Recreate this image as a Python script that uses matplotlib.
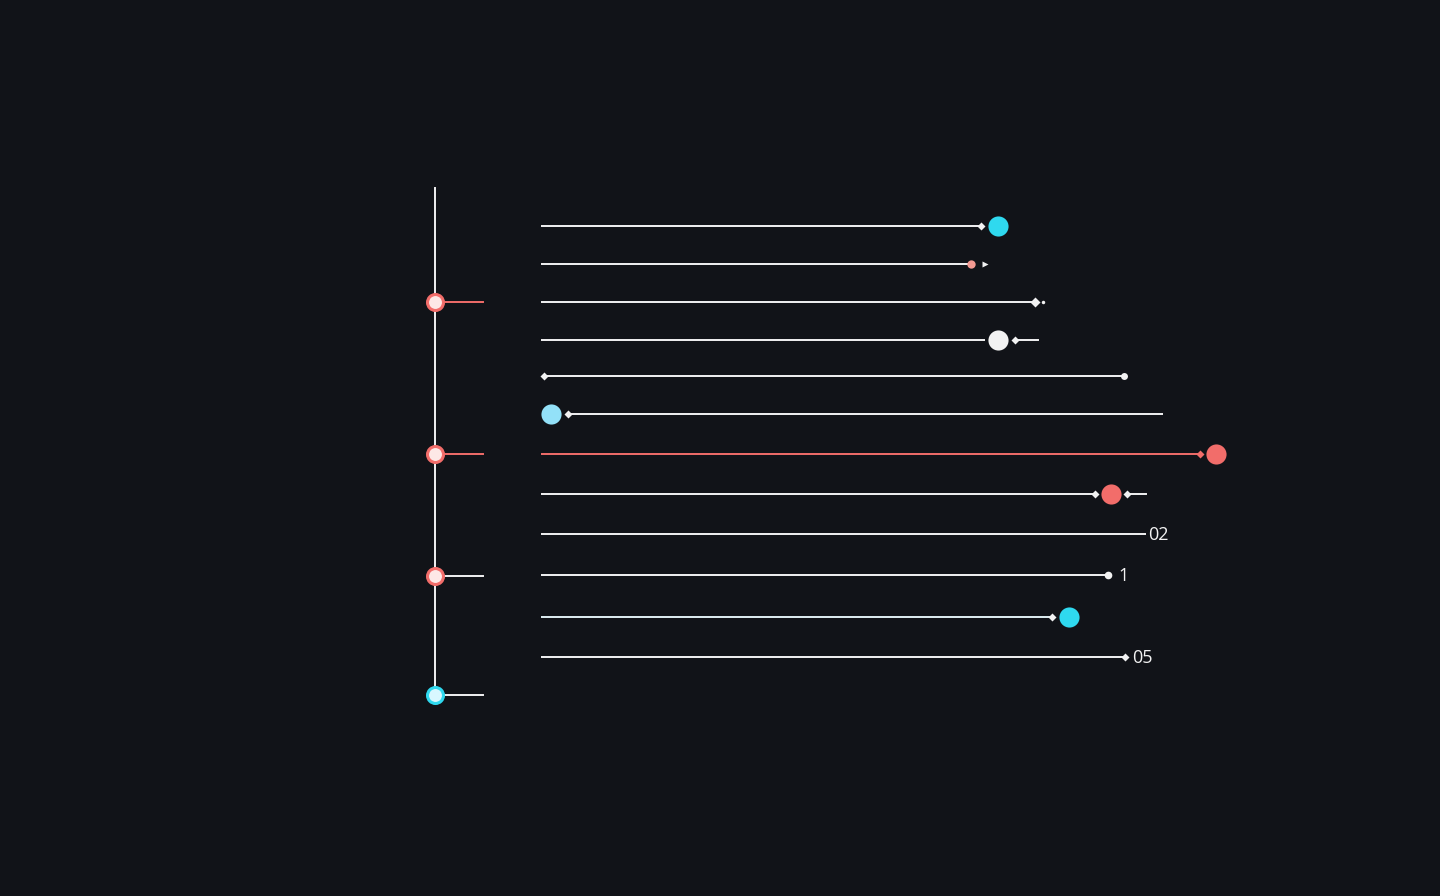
import numpy as np
import matplotlib
matplotlib.use("Agg")
import matplotlib.pyplot as plt

# colours
bg = "#111318"
white = "#f2f2f2"
cyan = "#2fd9ef"
red = "#f26d6a"
sky = "#93e1f8"

# rows of the right panel (screen rows, top to bottom)
rows = np.array([226, 264, 302, 340, 376, 414, 454, 494, 534, 575, 617, 657])
line_start = [541, 541, 541, 541, 544, 568, 541, 541, 541, 541, 541, 541]
line_end = [981, 971, 1035, 985, 1124, 1163, 1200, 1095, 1146, 1108, 1052, 1125]
line_col = [white, white, white, white, white, white, red, white, white, white, "#dfeef2", white]

# end markers: (row index, x, size, colour, marker)
end_idx = [0, 0, 1, 1, 2, 2, 3, 3, 4, 4, 5, 5, 6, 6, 7, 7, 7, 9, 10, 10, 11]
end_x = [981, 998, 971, 985, 1035, 1043, 998, 1015, 544, 1124, 551, 568, 1200, 1216, 1095, 1111, 1127, 1108, 1052, 1069, 1125]
end_size = [4.5, 14.5, 6, 4, 5, 2.5, 14.5, 4.5, 4.5, 5, 14.5, 4.5, 4.5, 14.5, 4.5, 14.5, 4.5, 5.5, 4.5, 14.5, 4.5]
end_col = [white, cyan, "#f49a92", white, white, white, white, white, white, white, sky, white,
           red, red, white, red, white, white, white, cyan, white]
end_mk = ["D", "o", "o", ">", "D", "o", "o", "D", "D", "o", "o", "D", "D", "o", "D", "o", "D", "o", "D", "o", "D"]

# trailing stubs after a marker
stub_idx = [3, 7]
stub_x0 = [1015, 1127]
stub_x1 = [1038, 1146]

# labels
lab_idx = [8, 9, 11]
lab_x = [1148, 1118, 1132]
lab_txt = ["02", "1", "05"]

# left timeline
tl_x = 435
tl_top, tl_bottom = 188, 695
tl_y = [302, 454, 576, 695]
tl_col = [red, red, red, cyan]
tl_stub_col = [red, red, white, white]
tl_stub_end = 483

fig = plt.figure(figsize=(14.4, 8.96), dpi=100, facecolor=bg)
ax = fig.add_axes([0, 0, 1, 1])
ax.set_facecolor(bg)
ax.set_xlim(0, 1440)
ax.set_ylim(896, 0)
ax.axis("off")

# timeline
ax.plot([tl_x, tl_x], [tl_top, tl_bottom], color=white, lw=1.4, zorder=2)
for y, c, sc in zip(tl_y, tl_col, tl_stub_col):
    ax.plot([tl_x, tl_stub_end], [y, y], color=sc, lw=1.4, zorder=2)
    ax.plot(tl_x, y, "o", ms=11.5, mfc="#fde8e6" if c == red else "#d8f7ff",
            mec=c, mew=2.2, zorder=3)

# lines
for r, x0, x1, c in zip(rows, line_start, line_end, line_col):
    ax.plot([x0, x1], [r, r], color=c, lw=1.4, zorder=2, solid_capstyle="butt")

for i, x0, x1 in zip(stub_idx, stub_x0, stub_x1):
    ax.plot([x0, x1], [rows[i], rows[i]], color=white, lw=1.4, zorder=2)

for i, x, s, c, m in zip(end_idx, end_x, end_size, end_col, end_mk):
    ax.plot(x, rows[i], m, ms=s, color=c, mec="none", zorder=4)

for i, x, t in zip(lab_idx, lab_x, lab_txt):
    ax.text(x, rows[i] + 1, t, color=white, fontsize=13, va="center", ha="left",
            family="Open Sans")

fig.savefig("out.png", dpi=100, facecolor=bg)
